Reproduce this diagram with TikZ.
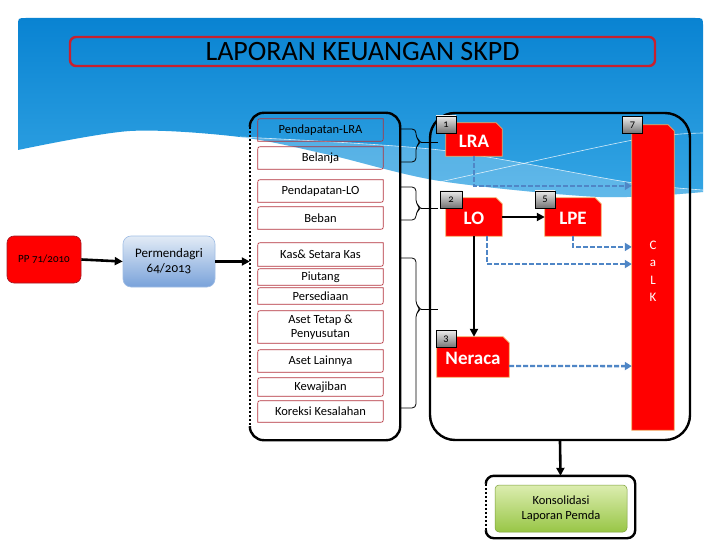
\documentclass[tikz,border=0pt]{standalone}
\usepackage{fontspec}
\setmainfont{Carlito}[Numbers=OldStyle]
\usetikzlibrary{arrows.meta, calc}
\definecolor{cred}{HTML}{FF0000}
\definecolor{cframe}{HTML}{C8202E}
\definecolor{citem}{HTML}{B3313B}
\definecolor{cedge}{HTML}{F4A65C}
\definecolor{cdash}{HTML}{4F86C6}
\definecolor{cbluetop}{HTML}{0983D2}
\definecolor{cbluebot}{HTML}{35A6E4}
\definecolor{cpermtop}{HTML}{E2EBF6}
\definecolor{cpermbot}{HTML}{79A2DA}
\definecolor{cgreentop}{HTML}{DCEDB0}
\definecolor{cgreenbot}{HTML}{98C646}
\tikzset{
  item/.style={inner sep=1pt, minimum width=125pt, align=center, font=\fontsize{12.5}{13.5}\selectfont},
  itemline/.style={draw=citem, line width=0.7pt},
  frame/.style={draw=black, line width=2.4pt},
  tag/.style={draw=black, line width=0.6pt, top color=black!8, bottom color=black!55, minimum width=20pt, minimum height=17pt, inner sep=0pt, font=\fontsize{10.5}{10.5}\selectfont},
  reptext/.style={text=white, font=\bfseries\fontsize{19}{19}\selectfont},
  arrow/.style={-{Triangle[length=8pt, width=8pt]}, line width=2.6pt},
  dasharrow/.style={-{Triangle[length=7pt, width=8pt]}, draw=cdash, line width=2.4pt, dash pattern=on 5pt off 2pt},
  bracel/.style={line width=0.8pt, rounded corners=4pt},
}
\newcommand{\reportbox}[6]{% name, x, y, width, height, text
  \node[minimum width=#4, minimum height=#5, inner sep=0pt] (#1) at (#2,#3) {};
  \filldraw[fill=cred, draw=cedge, line width=0.8pt] (#1.south west) -- (#1.north west) -- ([xshift=-6pt]#1.north east) -- ([yshift=-6pt]#1.north east) -- (#1.south east) -- cycle;
  \node[reptext] at ([yshift=-1.5pt]#1.center) {#6};}
\newcommand{\bracket}[3]{% top, bottom, tip
  \draw[bracel] (400,#1) -- (416,#1) -- (416,{#3-4}) -- (421,#3) -- (416,{#3+4}) -- (416,#2) -- (400,#2);
  \draw[line width=0.8pt] (421,#3) -- (438,#3);}
\begin{document}
\begin{tikzpicture}[x=1pt, y=-1pt]
  \useasboundingbox (0,0) rectangle (720,540);
  \fill[white] (0,0) rectangle (720,540);
  % blue slide header with wave
  \shade[top color=cbluetop, bottom color=cbluebot] (18,150) -- (18,26) .. controls (18,18) .. (26,18) -- (695,18) .. controls (703,18) .. (703,26) -- (703,192)
    -- plot[smooth] coordinates {(703,192) (600,197) (440,181) (330,155) (240,137) (130,131) (18,150)} -- cycle;
  \fill[white, opacity=0.22] plot[smooth] coordinates {(240,137) (440,150) (627,182) (703,190)}
    -- plot[smooth] coordinates {(703,192) (600,197) (440,181) (330,155) (240,137)} -- cycle;
  \draw[white, opacity=0.8, line width=0.6pt] plot[smooth] coordinates {(240,137) (440,150) (627,182) (703,190)};
  \draw[white, opacity=0.8, line width=0.6pt] plot[smooth] coordinates {(440,182) (633,140) (703,133)};
  % title
  \node[draw=cframe, line width=2.4pt, rounded corners=6pt, minimum width=585pt, minimum height=29pt, font=\fontsize{28}{28}\selectfont] (title) at (362.5,51.5) {LAPORAN KEUANGAN SKPD};
  % regulations
  \node[draw=cframe!80!black, line width=0.6pt, fill=cred, rounded corners=7pt, minimum width=74pt, minimum height=47pt, font=\fontsize{11}{12}\selectfont] (pp) at (44,259.5) {PP 71/2010};
  \node[draw=cpermbot!70!white, line width=0.6pt, top color=cpermtop, bottom color=cpermbot, rounded corners=8pt, minimum width=92pt, minimum height=51pt, align=center, font=\fontsize{13}{15}\selectfont] (perm) at (169,261.5) {Permendagri\\64/2013};
  % account items
  \node[minimum width=150pt, minimum height=327pt, inner sep=0pt] (lframe) at (325,276.5) {};
  \draw[frame, rounded corners=14pt] ([yshift=-14pt]lframe.north west) -- (lframe.north west) -- (lframe.north east) -- (lframe.south east) -- (lframe.south west) -- ([yshift=14pt]lframe.south west);
  \draw[frame, line width=2pt, dash pattern=on 2.5pt off 1.5pt] ([yshift=-14pt]lframe.north west) -- ([yshift=14pt]lframe.south west);
  \foreach \n/\t/\yc/\h in {itlra/Pendapatan-LRA/130/22, itbel/Belanja/158/22, itplo/Pendapatan-LO/191/22, itbeb/Beban/218/22,
      itkas/{Kas\& Setara Kas}/254.5/23, itpiu/Piutang/277/16, itper/Persediaan/296/16, itaset/{Aset Tetap \&\\Penyusutan}/327/32,
      itlain/Aset Lainnya/361/22, itkew/Kewajiban/387/18, itkor/Koreksi Kesalahan/411.5/21} {
    \node[item, minimum height=\h] (\n) at (320.5,\yc) {\t};
    \draw[itemline] ([xshift=4pt]\n.north west) .. controls (\n.north west) .. ([yshift=-4pt]\n.north west) -- (\n.south west)
      -- ([xshift=-4pt]\n.south east) .. controls (\n.south east) .. ([yshift=4pt]\n.south east) -- (\n.north east) -- cycle;
  }
  \bracket{129}{162}{142}
  \bracket{187}{220}{208}
  \bracket{258}{408}{309}
  % reports
  \node[frame, rounded corners=25pt, minimum width=260pt, minimum height=327pt] (rframe) at (560,276.5) {};
  \reportbox{lra}{474}{139.5}{56}{33}{LRA}
  \reportbox{lo}{474}{217}{56}{38}{LO}
  \reportbox{lpe}{573}{217}{56}{38}{LPE}
  \reportbox{neraca}{473}{357}{72}{40}{Neraca}
  \reportbox{calk}{653}{277.5}{42}{305}{}
  \node[text=white, align=center, font=\fontsize{13}{17.5}\selectfont] (calktext) at ([yshift=6pt]calk.center) {C\\a\\L\\K};
  \node[tag] (t1) at (446,124.5) {1};
  \node[tag, minimum width=22pt] (t2) at (451,199.5) {2};
  \node[tag] (t5) at (545,199.5) {5};
  \node[tag] (t3) at (446,339) {3};
  \node[tag] (t7) at (632.5,125) {7};
  % consolidation
  \node[minimum width=149pt, minimum height=62pt, inner sep=0pt] (kframe) at (560.5,507) {};
  \draw[frame, rounded corners=8pt] ([yshift=-8pt]kframe.north west) -- (kframe.north west) -- (kframe.north east) -- (kframe.south east) -- (kframe.south west) -- ([yshift=8pt]kframe.south west);
  \draw[frame, line width=2pt, dash pattern=on 2.5pt off 1.5pt] ([yshift=-8pt]kframe.north west) -- ([yshift=8pt]kframe.south west);
  \node[draw=cgreenbot!80!black, line width=0.5pt, top color=cgreentop, bottom color=cgreenbot, rounded corners=4pt, minimum width=132pt, minimum height=47pt, align=center, font=\fontsize{12.5}{15}\selectfont] (konsol) at (561,508.5) {Konsolidasi\\Laporan Pemda};
  % connectors
  \draw[arrow] (pp.east) -- (perm.west);
  \draw[arrow] (perm.east) -- (perm.east -| lframe.west);
  \draw[arrow] (lo.east) -- (lpe.west);
  \draw[arrow] (lo.south) -- (lo.south |- neraca.north);
  \draw[arrow] (rframe.south) -- (kframe.north);
  \draw[dasharrow] (lra.south) |- ($(calk.north west)!0.2!(calk.south west)$);
  \draw[dasharrow] (lpe.south) |- ($(calk.north west)!0.4!(calk.south west)$);
  \draw[dasharrow] ([xshift=13pt]lo.south) |- ($(calk.north west)!0.456!(calk.south west)$);
  \draw[dasharrow] ([yshift=-9pt]neraca.east) -- ($(calk.north west)!0.79!(calk.south west)$);
\end{tikzpicture}
\end{document}
